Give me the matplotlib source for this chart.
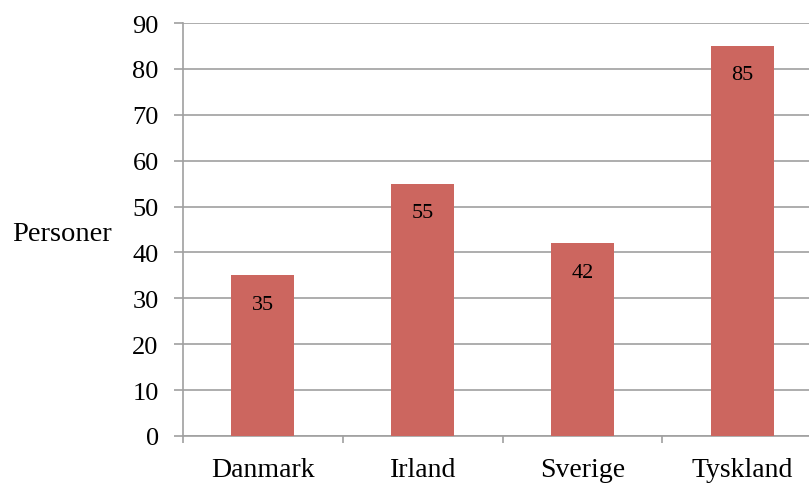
import matplotlib.pyplot as plt
import numpy as np

countries = ["Danmark", "Irland", "Sverige", "Tyskland"]
persons = [35, 55, 42, 85]
yticks = [0, 10, 20, 30, 40, 50, 60, 70, 80, 90]

plt.rcParams['font.family'] = ['Liberation Serif', 'DejaVu Serif']

fig = plt.figure(figsize=(8.09, 4.85), dpi=100)
ax = fig.add_axes([0.2262, 0.099, 0.790, 0.8515])

x = np.arange(len(countries))
bars = ax.bar(x, persons, width=0.395, color='#CC665F', zorder=3)

for xi, v in zip(x, persons):
    ax.annotate(str(v), (xi, v), xytext=(0, -29), textcoords='offset pixels',
                ha='center', va='center', fontsize=16, color='black', zorder=4)

ax.set_xlim(-0.5, len(countries) - 0.5)
ax.set_ylim(0, 90)
ax.set_yticks(yticks)
ax.set_yticklabels([str(t) for t in yticks], fontsize=19)
ax.yaxis.grid(True, color='#A0A0A0', linewidth=1.2, zorder=0)
ax.set_axisbelow(True)

# category labels centred, boundary ticks between them
ax.set_xticks(np.arange(-0.5, len(countries) + 0.5, 1.0))
ax.set_xticklabels([])
ax.set_xticks(x, minor=True)
ax.set_xticklabels(countries, minor=True, fontsize=20)
ax.tick_params(axis='x', which='minor', length=0, pad=15)
ax.tick_params(axis='x', which='major', length=5, color='#A0A0A0', width=1.2)
ax.tick_params(axis='y', length=6.5, color='#A0A0A0', width=1.2, pad=11)

for s in ['top', 'right']:
    ax.spines[s].set_visible(False)
for s in ['left', 'bottom']:
    ax.spines[s].set_color('#A0A0A0')
    ax.spines[s].set_linewidth(1.2)

ax.set_ylabel('Personer', rotation=0, fontsize=20.5, labelpad=0, ha='left', va='center')
ax.yaxis.set_label_coords(-0.2676, 0.49)

fig.savefig('out.png', dpi=100)
